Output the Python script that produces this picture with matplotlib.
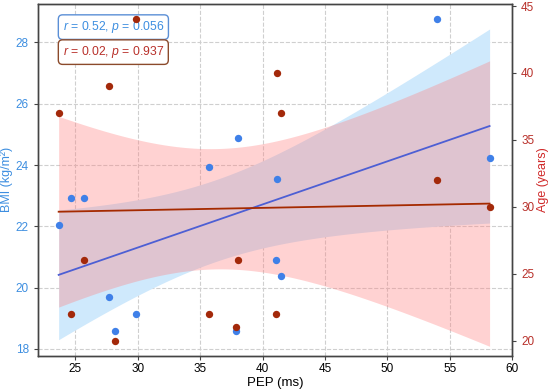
import numpy as np
import matplotlib
matplotlib.use("Agg")
import matplotlib.pyplot as plt

plt.rcParams['font.family'] = ['Liberation Sans', 'DejaVu Sans']
plt.rcParams['mathtext.fontset'] = 'custom'
plt.rcParams['mathtext.it'] = 'Liberation Sans:italic'
plt.rcParams['mathtext.rm'] = 'Liberation Sans'

# values
pep = [23.66, 24.65, 25.72, 27.67, 28.2, 29.86, 35.67, 37.9, 38.0, 41.05, 41.13, 41.45, 54.0, 58.2]
bmi = [22.04, 22.93, 22.94, 19.71, 18.6, 19.13, 23.94, 18.6, 24.88, 20.9, 23.53, 20.38, 28.75, 24.24]
age = [37, 22, 26, 39, 20, 44, 22, 21, 26, 22, 40, 37, 32, 30]

x_ticks = [25, 30, 35, 40, 45, 50, 55, 60]
bmi_ticks = [18, 20, 22, 24, 26, 28]
age_ticks = [20, 25, 30, 35, 40, 45]

blue_pt = '#3f80e8'
blue_line = '#4d5fd4'
blue_txt = '#3d8ee0'
red_pt = '#a3290a'
red_line = '#a52a00'
red_txt = '#b8302a'

Z = 1.96


def fit_ci(x, y, xs):
    x = np.asarray(x, float)
    y = np.asarray(y, float)
    b, a = np.polyfit(x, y, 1)
    n = len(x)
    resid = y - (a + b * x)
    s = np.sqrt(np.sum(resid ** 2) / (n - 2))
    sxx = np.sum((x - x.mean()) ** 2)
    yh = a + b * xs
    half = Z * s * np.sqrt(1 / n + (xs - x.mean()) ** 2 / sxx)
    return yh, yh - half, yh + half


xs = np.linspace(min(pep), max(pep), 100)
b_fit, b_lo, b_hi = fit_ci(pep, bmi, xs)
a_fit, a_lo, a_hi = fit_ci(pep, age, xs)

fig = plt.figure(figsize=(5.5, 3.91), dpi=100)
ax1 = fig.add_axes([0.069, 0.0903, 0.862, 0.9007])
ax2 = ax1.twinx()

ax1.fill_between(xs, b_lo, b_hi, color='#cfe9fc', lw=0, zorder=1)
ax1.grid(True, ls='--', color='#cfcfcf', lw=0.8, zorder=0)
ax1.set_axisbelow(True)

ax2.fill_between(xs, a_lo, a_hi, color='#ff8080', alpha=0.35, lw=0, zorder=1)
ax2.plot(xs, b_fit, color=blue_line, lw=1.3, transform=ax1.transData, zorder=3)
ax2.plot(xs, a_fit, color=red_line, lw=1.3, zorder=3)
ax2.scatter(pep, bmi, s=28, color=blue_pt, lw=0, transform=ax1.transData, zorder=4)
ax2.scatter(pep, age, s=28, color=red_pt, lw=0, zorder=5)

ax1.set_xlim(22, 60)
ax1.set_ylim(17.78, 29.27)
ax2.set_ylim(18.88, 45.19)
ax1.set_xticks(x_ticks)
ax1.set_yticks(bmi_ticks)
ax2.set_yticks(age_ticks)

for ax in (ax1, ax2):
    for sp in ax.spines.values():
        sp.set_color('#444444')
        sp.set_linewidth(1.0)
ax1.tick_params(axis='x', labelsize=8.5, color='#444444', length=3, pad=2.5)
ax1.tick_params(axis='y', labelsize=8.5, labelcolor=blue_txt, color='#444444', length=3)
ax2.tick_params(axis='y', labelsize=8.5, labelcolor=red_txt, color='#444444', length=3)

ax1.set_xlabel('PEP (ms)', fontsize=9.5, labelpad=1)
ax1.set_ylabel('BMI (kg/m²)', fontsize=9, color=blue_txt, labelpad=2)
ax2.set_ylabel('Age (years)', fontsize=9, color='#d02a2a', labelpad=2)

ax1.text(0.052, 0.933, '$r$ = 0.52, $p$ = 0.056', transform=ax1.transAxes,
         fontsize=8.8, color=blue_txt, ha='left', va='center', zorder=10,
         bbox=dict(boxstyle='round,pad=0.35', fc='white', ec='#5b8fd6', lw=1.0))
ax2.text(0.052, 0.862, '$r$ = 0.02, $p$ = 0.937', transform=ax1.transAxes,
         fontsize=8.8, color=red_txt, ha='left', va='center', zorder=10,
         bbox=dict(boxstyle='round,pad=0.35', fc='white', ec='#8b4a2b', lw=1.0))

fig.savefig('out.png', dpi=100)
